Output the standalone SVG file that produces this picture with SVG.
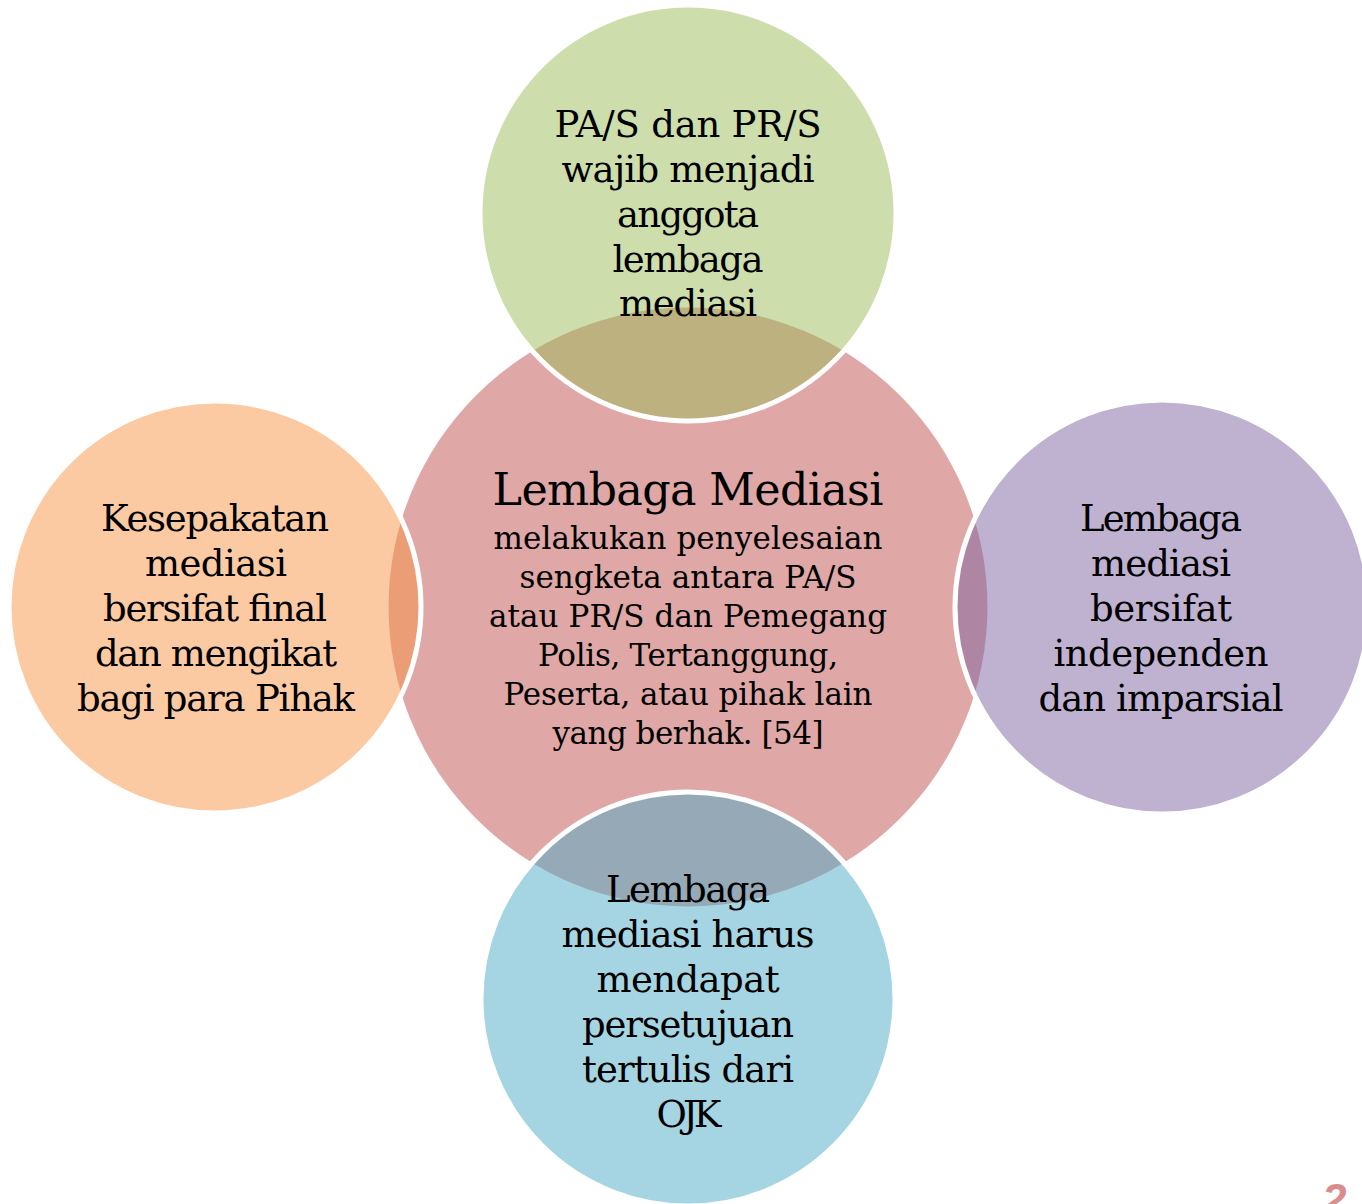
<svg xmlns="http://www.w3.org/2000/svg" width="1362" height="1204" viewBox="0 0 1362 1204">
  <style>
    .c { stroke: none; fill-opacity: 0.5; }
    .s { stroke: #FFFFFF; stroke-width: 5; stroke-opacity: 1; fill-opacity: 0.5; }
    .t { font-family: "DejaVu Serif", "Liberation Serif", serif; fill: #000000; text-anchor: middle; }
    .o { font-size: 37px; }
    .h { font-size: 44.5px; }
    .b { font-size: 31px; }
    .num { font-family: "Liberation Sans", Arial, sans-serif; font-weight: bold; font-style: italic; font-size: 44px; fill: #D98E8E; }
  </style>
  <rect x="0" y="0" width="1362" height="1204" fill="#FFFFFF"/>
  <g id="connectors"></g>
  <g id="node-center">
    <circle class="c" cx="688" cy="607" r="299.5" fill="#C0504D"/>
    <text class="t h" x="688" y="505" textLength="391">Lembaga Mediasi</text>
    <text class="t b" x="688" y="549" textLength="389">melakukan penyelesaian</text>
    <text class="t b" x="688" y="588" textLength="337">sengketa antara PA/S</text>
    <text class="t b" x="688" y="627" textLength="398">atau PR/S dan Pemegang</text>
    <text class="t b" x="688" y="666" textLength="300">Polis, Tertanggung,</text>
    <text class="t b" x="688" y="705" textLength="369">Peserta, atau pihak lain</text>
    <text class="t b" x="688" y="744" textLength="271">yang berhak. [54]</text>
  </g>
  <g id="node-top">
    <circle class="s" cx="688" cy="213" r="208" fill="#9BBB59"/>
    <text class="t o" x="688" y="137" textLength="267">PA/S dan PR/S</text>
    <text class="t o" x="688" y="181.5" textLength="253">wajib menjadi</text>
    <text class="t o" x="688" y="226.5" textLength="142">anggota</text>
    <text class="t o" x="688" y="271.5" textLength="151">lembaga</text>
    <text class="t o" x="688" y="316" textLength="138">mediasi</text>
  </g>
  <g id="node-right">
    <circle class="s" cx="1162" cy="607" r="207" fill="#8064A2"/>
    <text class="t o" x="1161" y="531" textLength="162">Lembaga</text>
    <text class="t o" x="1161" y="576" textLength="140">mediasi</text>
    <text class="t o" x="1161" y="621" textLength="142">bersifat</text>
    <text class="t o" x="1161" y="666" textLength="215">independen</text>
    <text class="t o" x="1161" y="711" textLength="245">dan imparsial</text>
  </g>
  <g id="node-bottom">
    <circle class="s" cx="688" cy="999" r="207" fill="#4BACC6"/>
    <text class="t o" x="688" y="902" textLength="164">Lembaga</text>
    <text class="t o" x="688" y="947" textLength="253">mediasi harus</text>
    <text class="t o" x="688" y="992" textLength="183">mendapat</text>
    <text class="t o" x="688" y="1037" textLength="212">persetujuan</text>
    <text class="t o" x="688" y="1082" textLength="212">tertulis dari</text>
    <text class="t o" x="689" y="1127" textLength="65">OJK</text>
  </g>
  <g id="node-left">
    <circle class="s" cx="215" cy="607" r="206" fill="#F79646"/>
    <text class="t o" x="215" y="531" textLength="228">Kesepakatan</text>
    <text class="t o" x="216" y="576" textLength="142">mediasi</text>
    <text class="t o" x="215" y="621" textLength="224">bersifat final</text>
    <text class="t o" x="216" y="666" textLength="242">dan mengikat</text>
    <text class="t o" x="216" y="711" textLength="278">bagi para Pihak</text>
  </g>
  <g id="slide-number">
    <text class="num" x="1322" y="1215">2</text>
  </g>
</svg>
